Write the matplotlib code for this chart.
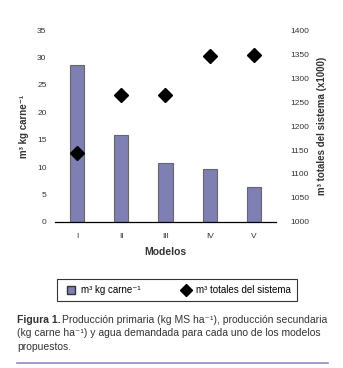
import matplotlib.pyplot as plt
from matplotlib.lines import Line2D

plt.rcParams['font.family'] = ['Liberation Sans', 'DejaVu Sans']

modelos = ['I', 'II', 'III', 'IV', 'V']
m3_kg_carne = [28.7, 15.9, 10.7, 9.7, 6.3]
m3_totales = [1143, 1264, 1265, 1346, 1349]

bar_color = '#7f7fb3'
text_color = '#333333'

fig = plt.figure(figsize=(3.43, 3.68), dpi=100)
ax = fig.add_axes([0.16, 0.397, 0.645, 0.521])
x = range(len(modelos))
ax.bar(x, m3_kg_carne, width=0.32, color=bar_color, edgecolor='#666666', linewidth=0.8)
ax.set_xlim(-0.5, 4.5)
ax.set_ylim(0, 35)
ax.set_yticks(range(0, 36, 5))
ax.set_xticks(list(x))
ax.set_xticklabels(modelos)
ax.tick_params(labelsize=6, length=0, colors=text_color, pad=8)
ax.tick_params(axis='y', pad=6)
for s in ['top', 'left', 'right']:
    ax.spines[s].set_visible(False)
ax.spines['bottom'].set_linewidth(0.9)
ax.set_xlabel('Modelos', fontsize=7.5, weight='bold', color=text_color, labelpad=5)
ax.set_ylabel('m³ kg carne⁻¹', fontsize=7, weight='bold', color=text_color, labelpad=6)

ax2 = ax.twinx()
ax2.plot(x, m3_totales, 'D', color='black', ms=7.5, ls='none')
ax2.set_ylim(1000, 1400)
ax2.set_yticks(range(1000, 1401, 50))
ax2.tick_params(labelsize=6, length=0, colors=text_color, pad=10)
for s in ['top', 'left', 'right', 'bottom']:
    ax2.spines[s].set_visible(False)
ax2.set_ylabel('m³ totales del sistema (x1000)', fontsize=7, weight='bold', color=text_color, labelpad=6)

handles = [Line2D([], [], marker='s', ls='none', color=bar_color, markeredgecolor='#333333', ms=6),
           Line2D([], [], marker='D', ls='none', color='black', ms=6)]
leg = fig.legend(handles, ['m³ kg carne⁻¹', 'm³ totales del sistema'], ncol=2, loc='center',
                 bbox_to_anchor=(0.516, 0.212), fontsize=7, frameon=True, fancybox=False,
                 edgecolor='black', handletextpad=0.3, columnspacing=3.8, borderpad=0.6,
                 borderaxespad=0, handlelength=1.6)
leg.get_frame().set_linewidth(0.8)

fig.text(0.05, 0.122, 'Figura 1.', fontsize=7.5, weight='bold', color=text_color)
fig.text(0.18, 0.122, 'Producción primaria (kg MS ha⁻¹), producción secundaria',
         fontsize=7.5, color=text_color)
fig.text(0.05, 0.086, '(kg carne ha⁻¹) y agua demandada para cada uno de los modelos',
         fontsize=7.5, color=text_color)
fig.text(0.05, 0.050, 'propuestos.', fontsize=7.5, color=text_color)
fig.add_artist(Line2D([0.05, 0.955], [0.014, 0.014], color='#9d86c6', lw=1.2))

fig.savefig('out.png', dpi=100)
